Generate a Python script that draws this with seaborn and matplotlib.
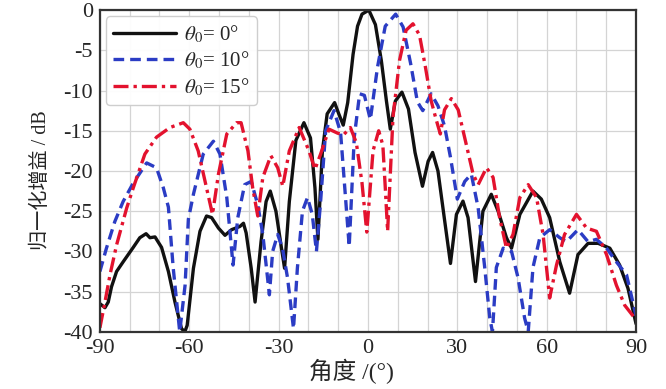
import numpy as np
import pandas as pd
import matplotlib
matplotlib.use("Agg")
import matplotlib.pyplot as plt
import seaborn as sns

# ---------------- data ----------------
ang_0 = [-90, -88.3, -87.2, -86.1, -84.4, -82.2, -78.8, -76.6, -74.5, -73.2, -71.5, -69.3, -67, -64.8,
         -62.6, -61.5, -60.7, -58.6, -56.4, -54.2, -52.5, -50.2, -48, -45.8, -43, -41.8, -40.9, -39.2,
         -37.9, -35.9, -34.2, -32.8, -30.9, -29.2, -28, -26.4, -24.2, -21.5, -19.3, -17.8, -16.8, -15.3,
         -13.7, -11.2, -9.8, -8.3, -6.8, -5, -3.5, -2, 0.3, 2.5, 4.5, 6.2, 7.5, 9.2, 11.4, 13.6, 15.8,
         18.3, 20.2, 21.7, 23.5, 25.5, 27.7, 29.7, 31.9, 33.6, 36.1, 38.6, 41.4, 43.7, 46.5, 48.2, 51,
         55.4, 58.2, 61, 64.4, 67.7, 70.5, 73.9, 77.3, 81.2, 84.5, 87.3, 90]
gain_0 = [-36.5, -37, -36.3, -34.4, -32.5, -31.3, -29.5, -28.3, -27.8, -28.3, -28.2, -29.5, -32.5, -36.3,
          -39.6, -40, -39.2, -32.1, -27.5, -25.6, -25.8, -27.1, -28, -27.3, -26.9, -26.5, -27.7, -32.1,
          -36.3, -28.8, -23.8, -22.5, -25, -29.2, -32.1, -23.8, -16.2, -14, -15.9, -22.1, -28.5, -17.5,
          -12.9, -11.5, -12.9, -14.3, -11.5, -5.5, -2.0, -0.5, 0, -1.8, -6.3, -11.3, -14.8, -11.3, -10.2,
          -12.3, -17.7, -21.9, -18.8, -17.7, -20, -25.5, -31.5, -25.4, -23.75, -25.8, -33.75, -25, -22.9,
          -25, -28.3, -29.6, -25.4, -22.5, -23.5, -25.8, -31.3, -35.2, -30.4, -29, -29, -29.6, -31.7,
          -34.6, -39]

ang_10 = [-90, -87.8, -85, -82.2, -78.8, -74.3, -71, -68.7, -67, -65.4, -63.2, -61.4, -60.3, -58.6,
          -55.3, -51.9, -49.7, -47.4, -45.3, -43.7, -41.4, -39.2, -37, -35.3, -33.1, -32, -30.3, -28.7,
          -27, -25, -23.7, -22, -20.3, -18.7, -17.3, -15.9, -14.2, -11.4, -9.2, -7.6, -6.3, -4.6, -2.8,
          -1.2, 0.8, 3.2, 5.8, 9.3, 11.8, 14.3, 16.6, 18.4, 21.2, 23.5, 25.7, 27.7, 30, 32.5, 34.7, 37,
          39.2, 40.9, 41.8, 43.1, 45.4, 48.2, 50.4, 52.6, 53.8, 55.4, 57.7, 61, 64.4, 66.6, 70.5, 73.9,
          76.7, 80.1, 83.4, 86.8, 90]
gain_10 = [-32.5, -29.6, -26.3, -23.8, -21.5, -19, -19.6, -22.1, -24.5, -32, -40, -34.2, -26, -22.9,
           -17.9, -16.3, -17.9, -23.3, -31.7, -25.8, -21.7, -21.3, -24.2, -27.9, -35.4, -30, -27.9, -29.6,
           -33.3, -39.6, -32.1, -25, -23.3, -25.4, -30, -23.8, -15, -12.5, -15.2, -23, -29.4, -15.8, -10.4,
           -10.6, -13.6, -7.1, -2, -0.5, -2.1, -6.6, -11.4, -12.5, -10.4, -11.9, -14.4, -18.3, -23.5, -21.3,
           -20.4, -24.6, -32, -38.3, -40, -32, -29.6, -30, -33.3, -38.3, -40, -32, -28.3, -27.3, -28.3,
           -28.8, -27.3, -28.8, -28.5, -29.6, -31.3, -32.9, -38]

ang_15 = [-90, -88.3, -86.6, -84.4, -81, -78.8, -74.9, -71, -66.5, -62, -59.8, -57, -54.2, -52.2, -50.2,
          -47.4, -44.1, -42.6, -40.3, -38.7, -37, -35.3, -32.6, -30.3, -28.6, -26.4, -23.1, -19.8, -17.8,
          -15.9, -13.1, -10.2, -8.2, -5.9, -3.9, -2, -0.4, 1.7, 3.6, 5, 5.8, 6.6, 8.4, 10.6, 12.8, 15.1,
          17.3, 19.3, 21.2, 23, 24.3, 25.7, 28, 30.3, 33, 35.3, 37, 39.8, 42, 44.2, 46.5, 48.7, 51, 53.8,
          56.6, 58.8, 61, 63.3, 66, 70, 73.4, 76.7, 80.1, 83.4, 86.2, 90]
gain_15 = [-39.5, -36.3, -32.9, -29.2, -24.6, -22.1, -17.9, -15.8, -14.6, -14, -14.8, -17.5, -22.1, -25.4,
           -20.4, -15.4, -14, -14, -17.5, -22.1, -25.6, -20.8, -18.1, -19.6, -21.9, -17.5, -14.6, -17.5,
           -19.8, -17.9, -14.8, -15.3, -15.5, -14.6, -16.5, -21.5, -27.6, -17.5, -15, -16.8, -22, -27.5,
           -13.3, -6.25, -2.5, -1.7, -3.1, -7.1, -11.25, -13.75, -15.4, -12.4, -11, -12.4, -16.7, -20.4,
           -21.7, -19.6, -20.8, -25.8, -29.6, -27.9, -23.3, -21.7, -23.3, -27.9, -35.8, -31.7, -27.9,
           -25.4, -27.1, -27.5, -30.4, -34.2, -36.7, -38.5]

series_labels = [r"$\theta_0$= 0°", r"$\theta_0$= 10°", r"$\theta_0$= 15°"]
x_ticks = [-90, -60, -30, 0, 30, 60, 90]
y_ticks = [0, -5, -10, -15, -20, -25, -30, -35, -40]
x_label = "角度 /(°)"
y_label = "归一化增益 / dB"

# ---------------- style ----------------
sns.set_style("white")
plt.rcParams["font.family"] = ["Liberation Serif", "Noto Sans CJK SC", "DejaVu Sans"]
plt.rcParams["mathtext.fontset"] = "stix"
plt.rcParams["axes.unicode_minus"] = False

fig = plt.figure(figsize=(6.66, 3.89), dpi=100)
ax = fig.add_axes([0.150, 0.147, 0.805, 0.827])

styles = [
    dict(color="#111111", dashes=None),
    dict(color="#2b3cc4", dashes=(3.2, 1.8)),
    dict(color="#e3122e", dashes=(4.5, 1.5, 1.0, 1.5)),
]
data = [(ang_0, gain_0), (ang_10, gain_10), (ang_15, gain_15)]

for (xs, ys), lab, st in zip(data, series_labels, styles):
    df = pd.DataFrame({"angle": xs, "gain": ys})
    sns.lineplot(data=df, x="angle", y="gain", ax=ax, color=st["color"],
                 linewidth=2.4, label=lab, sort=False)
    ln = ax.get_lines()[-1]
    if st["dashes"] is not None:
        ln.set_dashes(st["dashes"])

ax.set_xlim(-90, 90)
ax.set_ylim(-40, 0)
ax.set_xticks(x_ticks)
ax.set_yticks(y_ticks)
ax.set_xticks(np.arange(-90, 91, 10), minor=True)
ax.set_yticks(np.arange(-40, 1, 5), minor=True)
ax.set_xticklabels([str(t) for t in x_ticks])
ax.set_yticklabels([str(t) for t in y_ticks])
ax.grid(True, which="both", color="#d4d4d4", linewidth=0.9)
ax.set_axisbelow(True)

ax.tick_params(axis="both", which="major", labelsize=16, direction="out", length=4,
               width=1.2, color="#333333", pad=1)
ax.tick_params(axis="both", which="minor", direction="out", length=3, width=1, color="#333333")

for sp in ax.spines.values():
    sp.set_color("#333333")
    sp.set_linewidth(1.6)

ax.set_xlabel(x_label, fontsize=17, labelpad=1)
ax.xaxis.set_label_coords(0.47, -0.085)
ax.set_ylabel(y_label, fontsize=14.5, labelpad=4)
ax.yaxis.set_label_coords(-0.092, 0.47)

leg = ax.legend(loc="upper left", fontsize=15, handlelength=3.0, handletextpad=0.4,
                frameon=True, borderpad=0.35, labelspacing=0.22, fancybox=True,
                bbox_to_anchor=(0.0, 1.0), borderaxespad=0.3)
leg.get_frame().set_edgecolor("#cccccc")
leg.get_frame().set_linewidth(1.0)
leg.get_frame().set_alpha(0.95)

fig.savefig("out.png", dpi=100)
